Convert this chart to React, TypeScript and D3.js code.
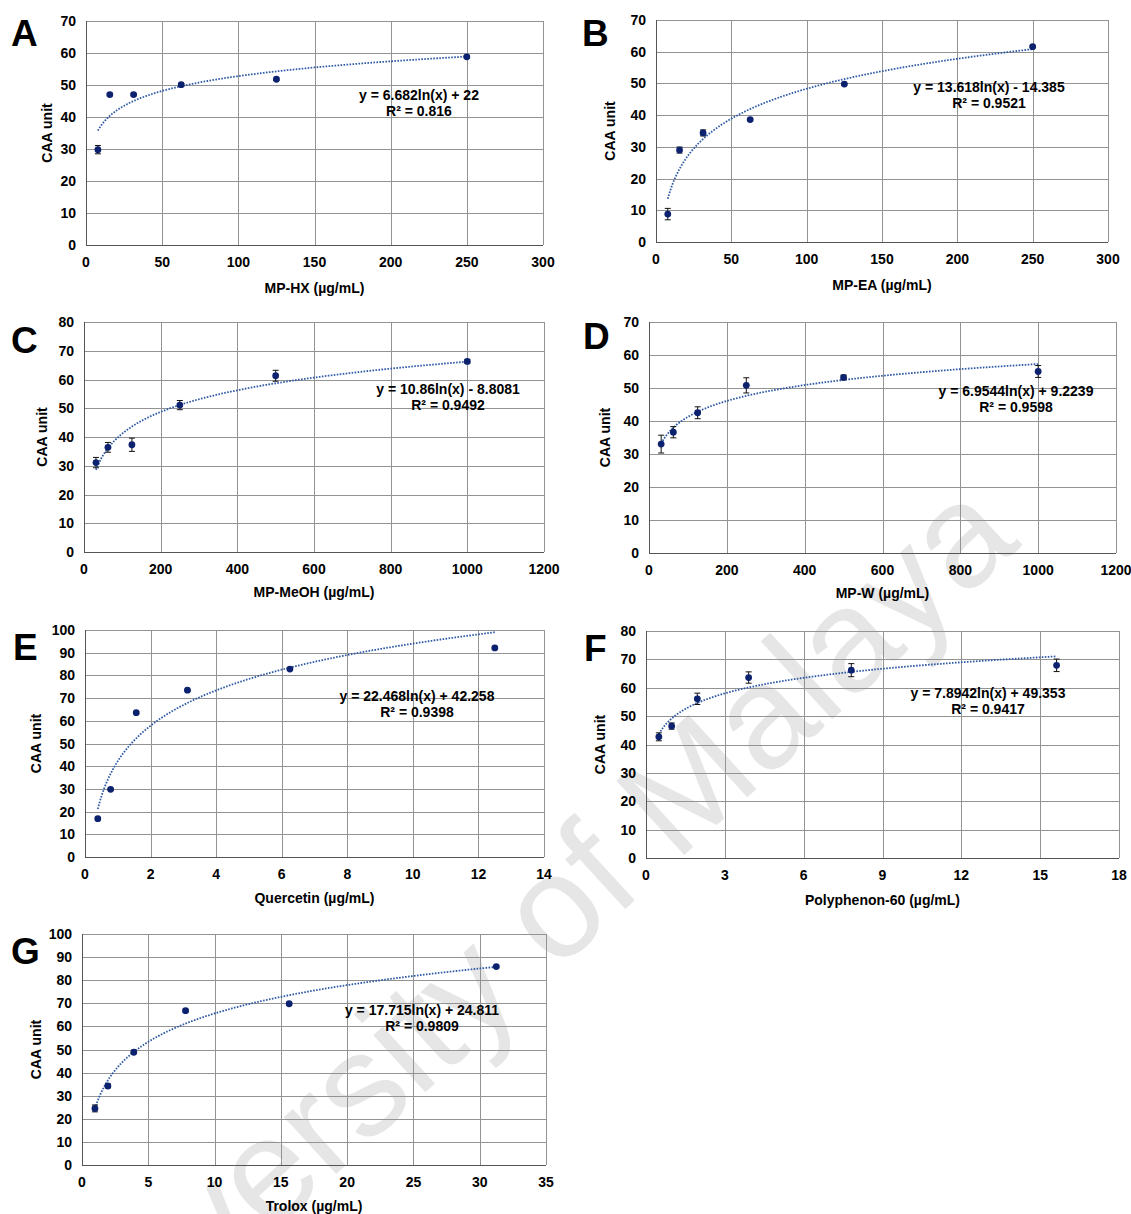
import React from "react";
import * as d3 from "d3";

// ---------- data ----------
const concExtractLow = [7.8125, 15.625, 31.25, 62.5, 125, 250];
const concExtractHigh = [31.25, 62.5, 125, 250, 500, 1000];
const concQuercetin = [0.390625, 0.78125, 1.5625, 3.125, 6.25, 12.5];
const concPolyphenon = [0.48828, 0.97656, 1.95313, 3.90625, 7.8125, 15.625];
const concTrolox = [0.97656, 1.95313, 3.90625, 7.8125, 15.625, 31.25];

const caaHX = [29.8, 47.0, 47.0, 50.1, 51.8, 58.8];
const errHX = [1.3, 0.4, 0.4, 0.4, 0.4, 0.4];
const caaEA = [8.8, 29.0, 34.4, 38.6, 49.8, 61.6];
const errEA = [1.8, 0.95, 0.95, 0.4, 0.3, 0.3];
const caaMeOH = [31.1, 36.4, 37.3, 51.1, 61.3, 66.3];
const errMeOH = [1.8, 1.7, 2.3, 1.6, 1.9, 0.6];
const caaW = [33.0, 36.6, 42.5, 50.8, 53.2, 55.0];
const errW = [2.7, 1.7, 1.8, 2.3, 0.7, 1.8];
const caaQuercetin = [16.9, 29.8, 63.6, 73.5, 82.8, 92.1];
const errQuercetin = [0.5, 0.4, 0.4, 0.4, 0.4, 0.4];
const caaPolyphenon = [42.7, 46.5, 56.1, 63.6, 66.2, 67.9];
const errPolyphenon = [1.4, 1.1, 2.0, 2.0, 2.3, 2.2];
const caaTrolox = [24.5, 34.2, 48.8, 66.8, 69.8, 85.9];
const errTrolox = [1.5, 0.8, 0.6, 0.6, 0.5, 0.5];

const panelLetters = ["A", "B", "C", "D", "E", "F", "G"];
const xTitles = [
  "MP-HX (µg/mL)",
  "MP-EA (µg/mL)",
  "MP-MeOH (µg/mL)",
  "MP-W (µg/mL)",
  "Quercetin (µg/mL)",
  "Polyphenon-60 (µg/mL)",
  "Trolox (µg/mL)",
];
const xMaxes = [300, 300, 1200, 1200, 14, 18, 35];
const xSteps = [50, 50, 200, 200, 2, 3, 5];
const yMaxes = [70, 70, 80, 70, 100, 80, 100];
const fitSlopes = [6.682, 13.618, 10.86, 6.9544, 22.468, 7.8942, 17.715];
const fitIntercepts = [22, -14.385, -8.8081, 9.2239, 42.258, 49.353, 24.811];
const equations = [
  "y = 6.682ln(x) + 22",
  "y = 13.618ln(x) - 14.385",
  "y = 10.86ln(x) - 8.8081",
  "y = 6.9544ln(x) + 9.2239",
  "y = 22.468ln(x) + 42.258",
  "y = 7.8942ln(x) + 49.353",
  "y = 17.715ln(x) + 24.811",
];
const rSquared = ["R² = 0.816", "R² = 0.9521", "R² = 0.9492", "R² = 0.9598", "R² = 0.9398", "R² = 0.9417", "R² = 0.9809"];
const watermarkText = "University of Malaya";

const seriesX = [concExtractLow, concExtractLow, concExtractHigh, concExtractHigh, concQuercetin, concPolyphenon, concTrolox];
const seriesY = [caaHX, caaEA, caaMeOH, caaW, caaQuercetin, caaPolyphenon, caaTrolox];
const seriesErr = [errHX, errEA, errMeOH, errW, errQuercetin, errPolyphenon, errTrolox];

// ---------- layout ----------
const layout = [
  { left: 86, right: 543, top: 21, bottom: 245, letterX: 11, letterY: 46, yLabX: 47, eqX: 419, eqY: 95, titleDy: 48 },
  { left: 656, right: 1108, top: 20, bottom: 242, letterX: 582, letterY: 46, yLabX: 610, eqX: 989, eqY: 87, titleDy: 48 },
  { left: 84, right: 544, top: 322, bottom: 552, letterX: 11, letterY: 353, yLabX: 42, eqX: 448, eqY: 389, titleDy: 45 },
  { left: 649, right: 1116, top: 322, bottom: 553, letterX: 583, letterY: 349, yLabX: 605, eqX: 1016, eqY: 391, titleDy: 45 },
  { left: 85, right: 544, top: 630, bottom: 857, letterX: 13, letterY: 660, yLabX: 36, eqX: 417, eqY: 696, titleDy: 46 },
  { left: 646, right: 1119, top: 631, bottom: 858, letterX: 584, letterY: 661, yLabX: 600, eqX: 988, eqY: 693, titleDy: 47 },
  { left: 82, right: 546, top: 934, bottom: 1165, letterX: 11, letterY: 964, yLabX: 36, eqX: 422, eqY: 1010, titleDy: 46 },
];

const FONT = "'Liberation Sans', Arial, sans-serif";
const GRID = "#939393";
const AXIS = "#555555";
const MARK = "#0d226f";
const TREND = "#2f5aa6";

function Panel({ i }: { i: number }) {
  const L = layout[i];
  const x = d3.scaleLinear().domain([0, xMaxes[i]]).range([L.left, L.right]);
  const y = d3.scaleLinear().domain([0, yMaxes[i]]).range([L.bottom, L.top]);
  const xt = d3.range(0, xMaxes[i] + 1e-9, xSteps[i]);
  const yt = d3.range(0, yMaxes[i] + 1e-9, 10);
  const xs = seriesX[i];
  const ys = seriesY[i];
  const es = seriesErr[i];
  const x0 = xs[0];
  const x1 = xs[xs.length - 1];
  const fitDomain = d3.range(0, 301).map((k) => x0 + ((x1 - x0) * k) / 300);
  const line = d3
    .line<number>()
    .x((d) => x(d))
    .y((d) => y(fitSlopes[i] * Math.log(d) + fitIntercepts[i]));
  const midY = (L.top + L.bottom) / 2;
  const midX = (L.left + L.right) / 2;
  return (
    <g>
      {yt.map((t) => (
        <line key={"gy" + t} x1={L.left} x2={L.right} y1={Math.round(y(t)) + 0.5} y2={Math.round(y(t)) + 0.5} stroke={t === 0 ? AXIS : GRID} strokeWidth={1} />
      ))}
      {xt.map((t) => (
        <line key={"gx" + t} y1={L.top} y2={L.bottom} x1={Math.round(x(t)) + 0.5} x2={Math.round(x(t)) + 0.5} stroke={t === 0 ? AXIS : GRID} strokeWidth={1} />
      ))}
      {yt.map((t) => (
        <text key={"ly" + t} x={L.left - 10} y={y(t) + 5} textAnchor="end" fontSize={14} fontWeight="bold" fontFamily={FONT}>
          {t}
        </text>
      ))}
      {xt.map((t) => (
        <text key={"lx" + t} x={x(t)} y={L.bottom + 22} textAnchor="middle" fontSize={14} fontWeight="bold" fontFamily={FONT}>
          {t}
        </text>
      ))}
      <text x={midX} y={L.bottom + L.titleDy} textAnchor="middle" fontSize={14} fontWeight="bold" fontFamily={FONT}>
        {xTitles[i]}
      </text>
      <text transform={`translate(${L.yLabX},${midY}) rotate(-90)`} dy="0.35em" textAnchor="middle" fontSize={14} fontWeight="bold" fontFamily={FONT}>
        CAA unit
      </text>
      <text x={L.letterX} y={L.letterY} fontSize={37} fontWeight="bold" fontFamily={FONT}>
        {panelLetters[i]}
      </text>
      <path d={line(fitDomain) || ""} fill="none" stroke={TREND} strokeWidth={1.8} strokeDasharray="1.6,1.4" />
      {xs.map((xv, k) => {
        const cx = x(xv);
        const yTop = y(ys[k] + es[k]);
        const yBot = y(ys[k] - es[k]);
        return (
          <g key={"e" + k} stroke="#111" strokeWidth={1}>
            <line x1={cx} x2={cx} y1={yTop} y2={yBot} />
            <line x1={cx - 3} x2={cx + 3} y1={yTop} y2={yTop} />
            <line x1={cx - 3} x2={cx + 3} y1={yBot} y2={yBot} />
          </g>
        );
      })}
      {xs.map((xv, k) => (
        <circle key={"m" + k} cx={x(xv)} cy={y(ys[k])} r={3.4} fill={MARK} />
      ))}
      <text x={L.eqX} y={L.eqY + 5} textAnchor="middle" fontSize={14} fontWeight="bold" fontFamily={FONT}>
        {equations[i]}
      </text>
      <text x={L.eqX} y={L.eqY + 21} textAnchor="middle" fontSize={14} fontWeight="bold" fontFamily={FONT}>
        {rSquared[i]}
      </text>
    </g>
  );
}

export default function App() {
  return (
    <svg width={1131} height={1214} style={{ position: "absolute", left: 0, top: 0, background: "#fff" }}>
      <rect x={0} y={0} width={1131} height={1214} fill="#fff" />
      <text transform="translate(538,989) rotate(-42.5)" textAnchor="middle" fontSize={146} fontFamily={FONT} fill="#e6e6e6">
        {watermarkText}
      </text>
      {layout.map((_, i) => (
        <Panel key={i} i={i} />
      ))}
    </svg>
  );
}
